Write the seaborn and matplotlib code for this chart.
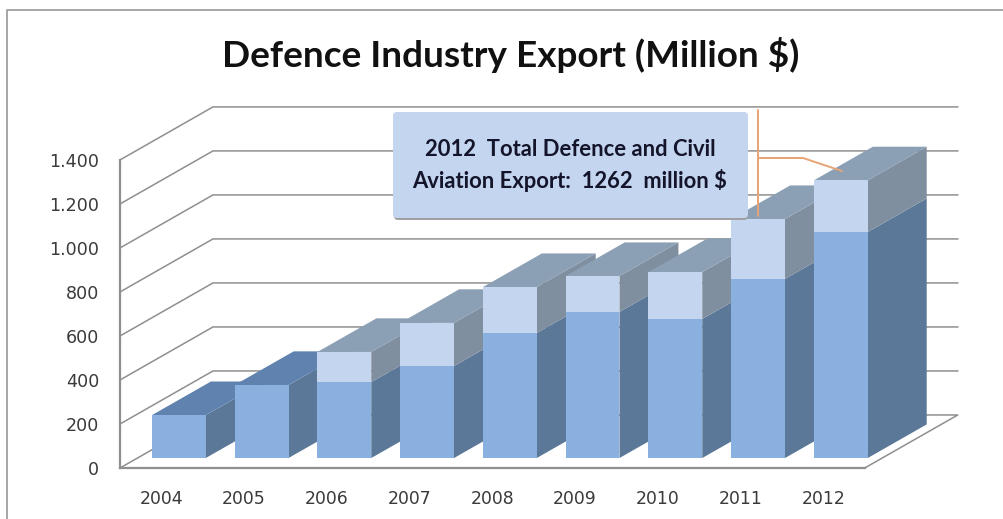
import matplotlib
matplotlib.use("Agg")
import matplotlib.pyplot as plt
from matplotlib.patches import FancyBboxPatch, Polygon
from matplotlib.transforms import Affine2D
import pandas as pd
import seaborn as sns

years = ["2004", "2005", "2006", "2007", "2008", "2009", "2010", "2011", "2012"]
defence = [195, 332, 345, 418, 568, 664, 632, 814, 1027]
total = [195, 332, 482, 614, 777, 827, 845, 1086, 1262]
y_levels = [0, 200, 400, 600, 800, 1000, 1200, 1400]
y_labels = ["0", "200", "400", "600", "800", "1.000", "1.200", "1.400"]

W, H = 1004, 519
GRID = "#8f8f8f"
FRONT_LOW, FRONT_UP = "#8ab0e0", "#c3d5ef"
SIDE_LOW, SIDE_UP = "#5b7898", "#808f9f"
TOP_LOW, TOP_UP = "#5f83ae", "#8b9fb5"
LEADER = "#e8a474"
BAR_W = 0.65
DEPTH_X, DEPTH_Y = 1.124, 241.0   # shift of the back wall, in data units
D_FRONT, D_BACK = 0.188, 0.822    # depth of the bars' front and back faces


def proj(x, y, d):
    return (x + DEPTH_X * d, y + DEPTH_Y * d)


sns.set_theme(style="white")
plt.rcParams["font.family"] = ["DejaVu Sans"]
fig = plt.figure(figsize=(W / 100, H / 100), dpi=100)
ax = fig.add_axes([120 / W, 1 - 468 / H, 838 / W, 360 / H])
ax.set_xlim(-0.5, 9.627)
ax.set_ylim(0, 1636)
ax.patch.set_alpha(0)

# Walls and floor in oblique projection
for v in y_levels[1:]:
    pts = [(-0.5, v), proj(-0.5, v, 1), proj(9.627 - DEPTH_X, v, 1)]
    ax.plot(*zip(*pts), color=GRID, lw=1.1, zorder=1, clip_on=False)
floor = [proj(-0.5, 0, 0), proj(-0.5, 0, 1), proj(8.5, 0, 1), proj(8.5, 0, 0)]
ax.plot(*zip(*floor), color=GRID, lw=1.1, zorder=1, clip_on=False)

# Front faces come from seaborn, then move to their depth in the scene
frame = pd.DataFrame({"year": years, "defence": defence, "total": total})
sns.barplot(data=frame, x="year", y="total", color=FRONT_UP, saturation=1,
            width=BAR_W, ax=ax, linewidth=0)
n_up = len(ax.patches)
sns.barplot(data=frame, x="year", y="defence", color=FRONT_LOW, saturation=1,
            width=BAR_W, ax=ax, linewidth=0)
ax.set_xlim(-0.5, 9.627)
ax.set_ylim(0, 1636)
shift = Affine2D().translate(*proj(0, 0, D_FRONT)) + ax.transData
for k, patch in enumerate(ax.patches):
    i = k if k < n_up else k - n_up
    patch.set_transform(shift)
    patch.set_clip_on(False)
    patch.set_zorder(10 + 2 * i + (0.6 if k < n_up else 0.8))

# Side and top faces of every bar
for i, (low, high) in enumerate(zip(defence, total)):
    right = i + BAR_W / 2
    left = i - BAR_W / 2
    z = 10 + 2 * i
    sides = [(0, low, SIDE_LOW)]
    if high > low:
        sides.append((low, high, SIDE_UP))
    for y0, y1, colour in sides:
        ax.add_patch(Polygon(
            [proj(right, y0, D_FRONT), proj(right, y0, D_BACK),
             proj(right, y1, D_BACK), proj(right, y1, D_FRONT)],
            facecolor=colour, edgecolor="none", zorder=z, clip_on=False))
    ax.add_patch(Polygon(
        [proj(left, high, D_FRONT), proj(right, high, D_FRONT),
         proj(right, high, D_BACK), proj(left, high, D_BACK)],
        facecolor=TOP_UP if high > low else TOP_LOW,
        edgecolor="none", zorder=z + 0.2, clip_on=False))

# Axes furniture
for name in ("top", "right"):
    ax.spines[name].set_visible(False)
ax.spines["left"].set_bounds(0, 1400)
ax.spines["bottom"].set_bounds(-0.5, 8.5)
for name in ("left", "bottom"):
    ax.spines[name].set_color(GRID)
    ax.spines[name].set_linewidth(1.6)
    ax.spines[name].set_zorder(2)
ax.set_xlabel("")
ax.set_ylabel("")
ax.set_yticks(y_levels, y_labels)
ax.set_xticks(range(len(years)), years)
ax.tick_params(axis="y", length=0, pad=15, labelsize=12.6, labelcolor="#3a3a3a")
ax.tick_params(axis="x", length=0, pad=15.5, labelsize=12.4, labelcolor="#3a3a3a")

# Title and the outer frame of the chart
fig.text(511 / W, 1 - 55 / H, "Defence Industry Export (Million $)",
         family="Lato", fontweight="bold", fontsize=26.6, color="#111111",
         ha="center", va="center")
overlay = fig.add_axes([0, 0, 1, 1], zorder=20)
overlay.set_xlim(0, W)
overlay.set_ylim(H, 0)
overlay.axis("off")
overlay.plot([7, 7, W], [H, 10, 10], color="#a6a6a6", lw=1.4)

# Callout with its leader line
overlay.plot([758.5, 758.5], [110, 216], color=LEADER, lw=1.4, zorder=1)
overlay.plot([758.5, 803, 842], [158, 158, 171], color=LEADER, lw=1.4, zorder=1)
overlay.add_patch(FancyBboxPatch((394, 115), 354, 105, boxstyle="round,pad=0,rounding_size=4",
                                 facecolor="#a0a0a0", edgecolor="none", zorder=2))
overlay.add_patch(FancyBboxPatch((393, 112), 355, 106, boxstyle="round,pad=0,rounding_size=4",
                                 facecolor="#c3d5ef", edgecolor="none", zorder=3))
overlay.text(570, 150, "2012  Total Defence and Civil", family="Lato", fontweight="bold",
             fontsize=15.8, color="#14142b", ha="center", va="center", zorder=4)
overlay.text(570, 180, "Aviation Export:  1262  million $", family="Lato", fontweight="bold",
             fontsize=15.8, color="#14142b", ha="center", va="center", zorder=4)

fig.savefig("out.png", dpi=100)
